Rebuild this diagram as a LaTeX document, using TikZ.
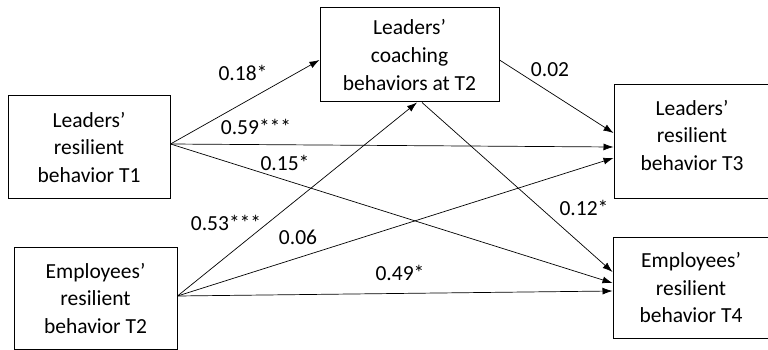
\documentclass[tikz,border=0pt]{standalone}
\usepackage{fontspec}
\setmainfont{Carlito}
\usetikzlibrary{arrows.meta}
\tikzset{
  var/.style={draw, line width=1pt, align=center, inner sep=0pt,
    font=\fontsize{21.5}{27.5}\selectfont},
  eff/.style={-{Latex[length=10pt,width=7pt]}, line width=0.7pt},
  coef/.style={inner sep=0pt, font=\fontsize{21.5}{26}\selectfont}
}
\begin{document}
\begin{tikzpicture}[x=1pt,y=-1pt]
\useasboundingbox (0,0) rectangle (768,350);
% variables
\node[var, minimum width=162pt, minimum height=102pt] (lt1) at (89,147) {Leaders'\\resilient\\behavior T1};
\node[var, minimum width=179pt, minimum height=94pt] (coach) at (409.5,55) {Leaders'\\coaching\\behaviors at T2};
\node[var, minimum width=156pt, minimum height=113pt,
  label={[align=center, font=\fontsize{21.5}{27.5}\selectfont, yshift=6.5pt]center:Leaders'\\resilient\\behavior T3}] (lt3) at (692,141.5) {};
\node[var, minimum width=156pt, minimum height=101pt] (et4) at (691,287.5) {Employees'\\resilient\\behavior T4};
\node[var, minimum width=163pt, minimum height=102pt] (et2) at (95.5,298) {Employees'\\resilient\\behavior T2};
% paths
\draw[eff] ([yshift=3pt]lt1.east) -- ([yshift=-5pt]coach.west);
\draw[eff] ([yshift=3pt]lt1.east) -- ([yshift=-5.5pt]lt3.west);
\draw[eff] ([yshift=3pt]lt1.east) -- ([yshift=4.5pt]et4.west);
\draw[eff] ([yshift=2pt]et2.east) -- ([xshift=7.5pt]coach.south);
\draw[eff] ([yshift=2pt]et2.east) -- ([yshift=-16.5pt]lt3.west);
\draw[eff] ([yshift=2pt]et2.east) -- ([yshift=-3.5pt]et4.west);
\draw[eff] ([yshift=-5pt]coach.east) -- ([yshift=8.5pt]lt3.west);
\draw[eff] ([xshift=12.5pt]coach.south) -- ([yshift=15.5pt]et4.west);
% coefficients
\node[coef] (c18) at (243,73) {0.18*};
\node[coef] (c59) at (256,127) {0.59***};
\node[coef] (c15) at (285,163) {0.15*};
\node[coef] (c53) at (226,223) {0.53***};
\node[coef] (c06) at (298,237) {0.06};
\node[coef] (c49) at (400,273) {0.49*};
\node[coef] (c02) at (550,70) {0.02};
\node[coef] (c12) at (584,208) {0.12*};
\end{tikzpicture}
\end{document}
